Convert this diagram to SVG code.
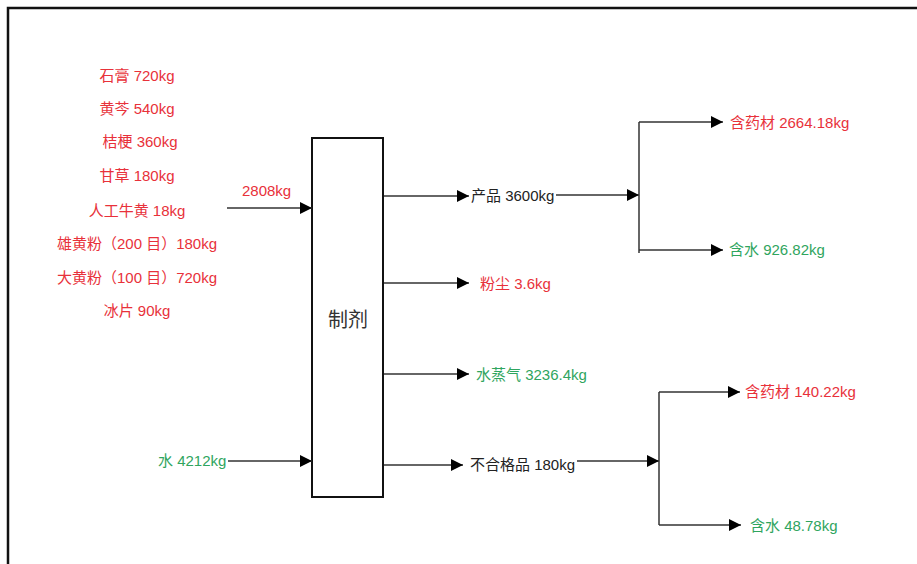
<svg xmlns="http://www.w3.org/2000/svg" width="917" height="564" viewBox="0 0 917 564">
<defs>
<marker id="arr" markerUnits="userSpaceOnUse" markerWidth="12" markerHeight="12" viewBox="0 0 12 12" refX="12" refY="6" orient="auto">
<path d="M0,0 L12,6 L0,12 Z" fill="#000"/>
</marker>
<style>
text{font-family:"Liberation Sans","Noto Sans CJK SC",sans-serif;font-size:15px;dominant-baseline:central}
.r{fill:#e8313a}
.g{fill:#2fa55e}
.k{fill:#222}
.c{stroke:#333;stroke-width:1.5;fill:none}
.a{marker-end:url(#arr)}
</style>
</defs>
<rect width="917" height="564" fill="#fff"/>
<path d="M8,564 V8 H917" fill="none" stroke="#111" stroke-width="2.5"/>
<g id="inputs">
<text class="r" x="137" y="75" text-anchor="middle">石膏 720kg</text>
<text class="r" x="137" y="108" text-anchor="middle">黄芩 540kg</text>
<text class="r" x="140" y="141" text-anchor="middle">桔梗 360kg</text>
<text class="r" x="137" y="175" text-anchor="middle">甘草 180kg</text>
<text class="r" x="137" y="210" text-anchor="middle">人工牛黄 18kg</text>
<text class="r" x="137" y="243" text-anchor="middle">雄黄粉（200 目）180kg</text>
<text class="r" x="137" y="277" text-anchor="middle">大黄粉（100 目）720kg</text>
<text class="r" x="137" y="310" text-anchor="middle">冰片 90kg</text>
</g>
<g id="box">
<rect x="312" y="138" width="71" height="359" fill="#fff" stroke="#111" stroke-width="2"/>
<text x="348" y="320" text-anchor="middle" style="font-size:20px;fill:#333">制剂</text>
</g>
<g id="connectors">
<path class="c a" d="M227,208 H312"/>
<path class="c a" d="M228,461 H312"/>
<path class="c a" d="M384,196 H469"/>
<path class="c a" d="M556,195 H639"/>
<path class="c" d="M639,122 V253"/>
<path class="c a" d="M639,122 H723"/>
<path class="c a" d="M639,250 H723"/>
<path class="c a" d="M384,283 H469"/>
<path class="c a" d="M384,374 H469"/>
<path class="c a" d="M384,465 H463"/>
<path class="c a" d="M577,461 H659"/>
<path class="c" d="M659,392 V525"/>
<path class="c a" d="M659,392 H740"/>
<path class="c a" d="M659,525 H741"/>
</g>
<g id="labels">
<text class="r" x="242" y="190">2808kg</text>
<text class="g" x="158" y="460">水 4212kg</text>
<text class="k" x="471" y="195">产品 3600kg</text>
<text class="r" x="480" y="283">粉尘 3.6kg</text>
<text class="g" x="476" y="374">水蒸气 3236.4kg</text>
<text class="k" x="470" y="464">不合格品 180kg</text>
<text class="r" x="730" y="122">含药材 2664.18kg</text>
<text class="g" x="729" y="249">含水 926.82kg</text>
<text class="r" x="745" y="391">含药材 140.22kg</text>
<text class="g" x="750" y="525">含水 48.78kg</text>
</g>
</svg>
